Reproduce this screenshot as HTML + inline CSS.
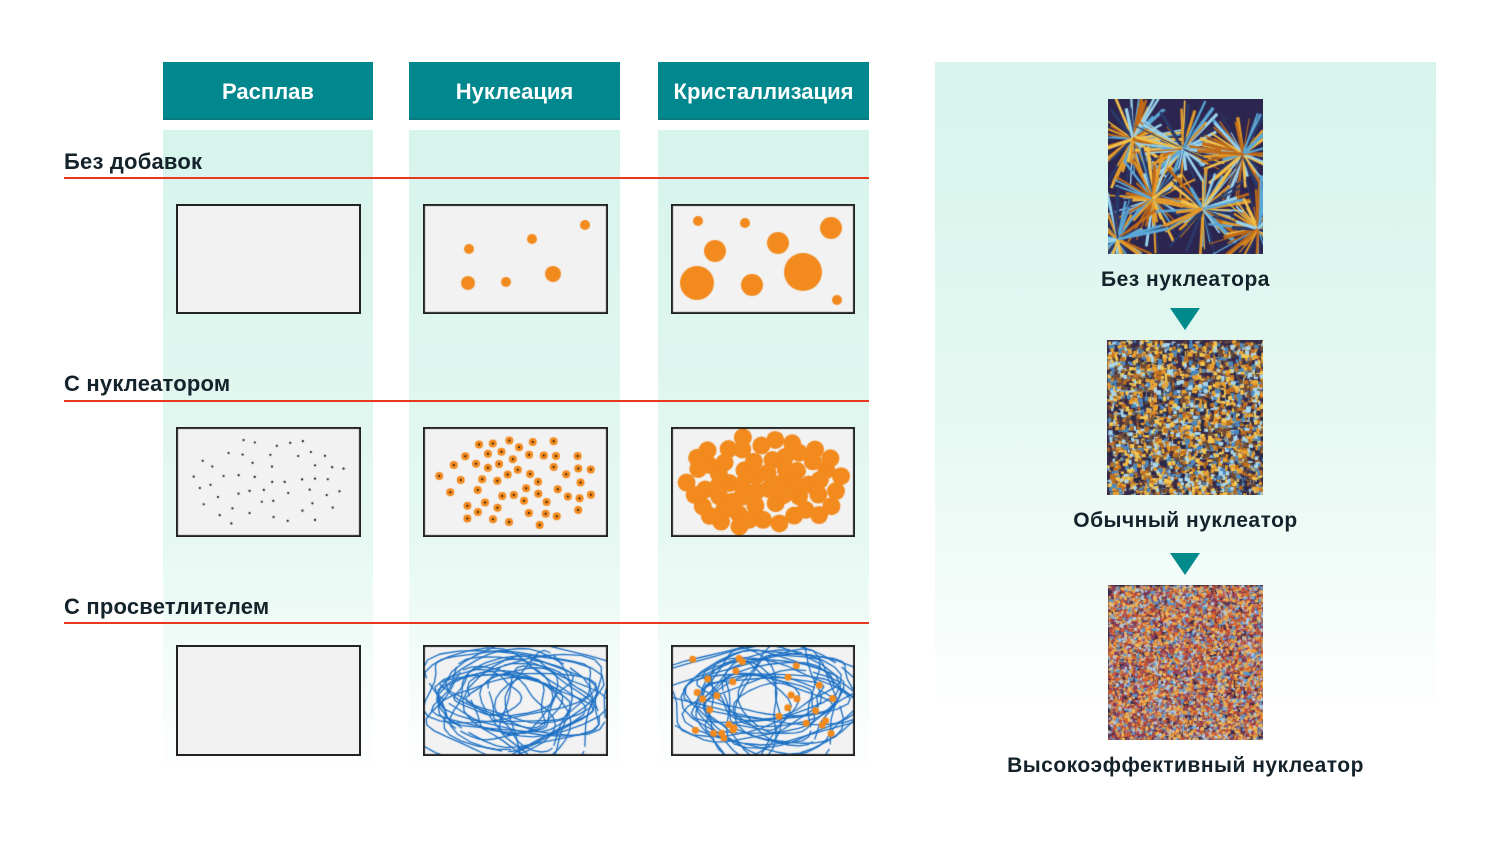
<!DOCTYPE html>
<html><head><meta charset="utf-8"><style>
body{margin:0;width:1500px;height:844px;background:#fff;position:relative;overflow:hidden;font-family:"Liberation Sans",sans-serif}
.band{position:absolute;top:130px;height:650px;background:linear-gradient(#d6f4ec 0%,#e4f8f1 60%,#fff 100%)}
.hd{position:absolute;top:62px;height:58px;background:#00888e;color:#fff;font-weight:bold;font-size:22px;display:flex;align-items:center;justify-content:center;border-bottom:2px solid #0a7a80;box-sizing:border-box;padding-top:3px}
.lbl{position:absolute;left:64px;font-weight:bold;font-size:22px;color:#14232b;letter-spacing:0.2px}
.line{position:absolute;left:64px;width:805px;height:2px;background:#e8381f}
canvas{position:absolute}
.box{position:absolute;background:#f2f2f2;border:2px solid #222;box-sizing:border-box}
.rl{position:absolute;left:935px;width:501px;text-align:center;font-weight:bold;font-size:21px;color:#14232b;letter-spacing:0.5px}
.tri{position:absolute;left:1170px;width:0;height:0;border-left:15px solid transparent;border-right:15px solid transparent;border-top:22px solid #008a8c}
</style></head><body>
<div class="band" style="left:163px;width:210px"></div>
<div class="band" style="left:409px;width:211px"></div>
<div class="band" style="left:658px;width:211px"></div>
<div style="position:absolute;left:935px;top:62px;width:501px;height:660px;background:linear-gradient(#d6f4ec 0%,#e3f8f1 50%,#fff 100%)"></div>
<div class="hd" style="left:163px;width:210px">Расплав</div>
<div class="hd" style="left:409px;width:211px">Нуклеация</div>
<div class="hd" style="left:658px;width:211px">Кристаллизация</div>
<div class="lbl" style="top:149px">Без добавок</div>
<div class="lbl" style="top:371px">С нуклеатором</div>
<div class="lbl" style="top:594px">С просветлителем</div>
<div class="line" style="top:177px"></div>
<div class="line" style="top:400px"></div>
<div class="line" style="top:622px"></div>

<div class="box" style="left:176px;top:204px;width:185px;height:110px"></div>
<canvas id="b12" width="185" height="110" style="left:423px;top:204px"></canvas>
<canvas id="b13" width="184" height="110" style="left:671px;top:204px"></canvas>
<canvas id="b21" width="185" height="110" style="left:176px;top:427px"></canvas>
<canvas id="b22" width="185" height="110" style="left:423px;top:427px"></canvas>
<canvas id="b23" width="184" height="110" style="left:671px;top:427px"></canvas>
<div class="box" style="left:176px;top:645px;width:185px;height:111px"></div>
<canvas id="b32" width="185" height="111" style="left:423px;top:645px"></canvas>
<canvas id="b33" width="184" height="111" style="left:671px;top:645px"></canvas>

<canvas id="m1" width="155" height="155" style="left:1108px;top:99px"></canvas>
<canvas id="m2" width="156" height="155" style="left:1107px;top:340px"></canvas>
<canvas id="m3" width="155" height="155" style="left:1108px;top:585px"></canvas>
<div class="rl" style="top:268px">Без нуклеатора</div>
<div class="tri" style="top:308px"></div>
<div class="rl" style="top:509px">Обычный нуклеатор</div>
<div class="tri" style="top:553px"></div>
<div class="rl" style="top:754px">Высокоэффективный нуклеатор</div>
<script>
var s=12345;function r(){s=(s*16807)%2147483647;return s/2147483647;}
function base(id){var c=document.getElementById(id),x=c.getContext('2d');x.fillStyle='#f2f2f2';x.fillRect(0,0,c.width,c.height);return [c,x];}
function frame(c,x){x.strokeStyle='#222';x.lineWidth=2;x.strokeRect(1,1,c.width-2,c.height-2);}
function circ(x,cx,cy,rr,col){x.fillStyle=col;x.beginPath();x.arc(cx,cy,rr,0,7);x.fill();}
var O='#f28a1e';
var a=base('b12');[[45,79,7],[46,45,5],[109,35,5],[162,21,5],[83,78,5],[130,70,8]].forEach(p=>circ(a[1],p[0],p[1],p[2],O));frame(a[0],a[1]);
a=base('b13');[[27,17,5],[74,19,5],[44,47,11],[107,39,11],[160,24,11],[26,79,17],[81,81,11],[132,68,19],[166,96,5]].forEach(p=>circ(a[1],p[0],p[1],p[2],O));frame(a[0],a[1]);
function pts(n){var p=[],g=0;while(p.length<n&&g<5000){g++;var px=15+r()*155,py=10+r()*90,dx=(px-92)/80,dy=(py-55)/47;if(dx*dx+dy*dy>1)continue;if(p.some(q=>Math.hypot(q[0]-px,q[1]-py)<11))continue;p.push([px,py]);}return p;}
a=base('b21');pts(50).forEach(p=>circ(a[1],p[0],p[1],1.1,'#111'));frame(a[0],a[1]);
a=base('b22');pts(55).forEach(p=>{circ(a[1],p[0],p[1],4,O);circ(a[1],p[0],p[1],1,'#111');});frame(a[0],a[1]);
a=base('b23');pts(60).forEach(p=>{circ(a[1],p[0],p[1],9,O);});pts(0);frame(a[0],a[1]);
function scr(id,dots){var a=base(id),x=a[1];x.strokeStyle='#1a6fc4';x.lineWidth=1.3;for(var k=0;k<22;k++){x.beginPath();var cx=90+(r()-.5)*60,cy=55+(r()-.5)*30,rx=30+r()*60,ry=20+r()*35,t0=r()*6;for(var t=0;t<=6.4;t+=0.2){var px=cx+rx*Math.cos(t+t0)*(1+.2*Math.sin(3*t)),py=cy+ry*Math.sin(t+t0)*(1+.2*Math.cos(2*t));t==0?x.moveTo(px,py):x.lineTo(px,py);}x.stroke();}
if(dots)for(var i=0;i<30;i++)circ(x,20+r()*150,12+r()*88,3.5,O);frame(a[0],x);}
scr('b32',0);scr('b33',1);
function mic(id,n,sz,cols){var c=document.getElementById(id),x=c.getContext('2d');x.fillStyle='#3a2a4a';x.fillRect(0,0,c.width,c.height);for(var i=0;i<n;i++){x.fillStyle=cols[Math.floor(r()*cols.length)];x.fillRect(r()*c.width,r()*c.height,sz*(0.5+r()),sz*(0.5+r()));}}
var c1=document.getElementById('m1'),x1=c1.getContext('2d');x1.fillStyle='#2c2550';x1.fillRect(0,0,155,155);
[[25,40],[75,50],[135,55],[45,100],[95,110],[150,130],[10,140]].forEach(function(p){for(var k=0;k<70;k++){var ang=r()*6.3,L=20+r()*35;x1.strokeStyle=['#e39a2a','#f2c04a','#5aa8d8','#9ad4ee','#c06a18','#2a3a6a'][Math.floor(r()*6)];x1.lineWidth=1+r()*2.5;x1.beginPath();x1.moveTo(p[0],p[1]);x1.lineTo(p[0]+L*Math.cos(ang),p[1]+L*Math.sin(ang));x1.stroke();}});
mic('m2',4000,3.5,['#e8a030','#f5c850','#4a88c0','#a8d8ee','#2a2848','#c07020','#6a4a3a']);
mic('m3',9000,2.5,['#d86a30','#e8a040','#5a98d0','#b0c8e0','#8a3a5a','#c04a38','#f0b858']);
</script>
</body></html>
